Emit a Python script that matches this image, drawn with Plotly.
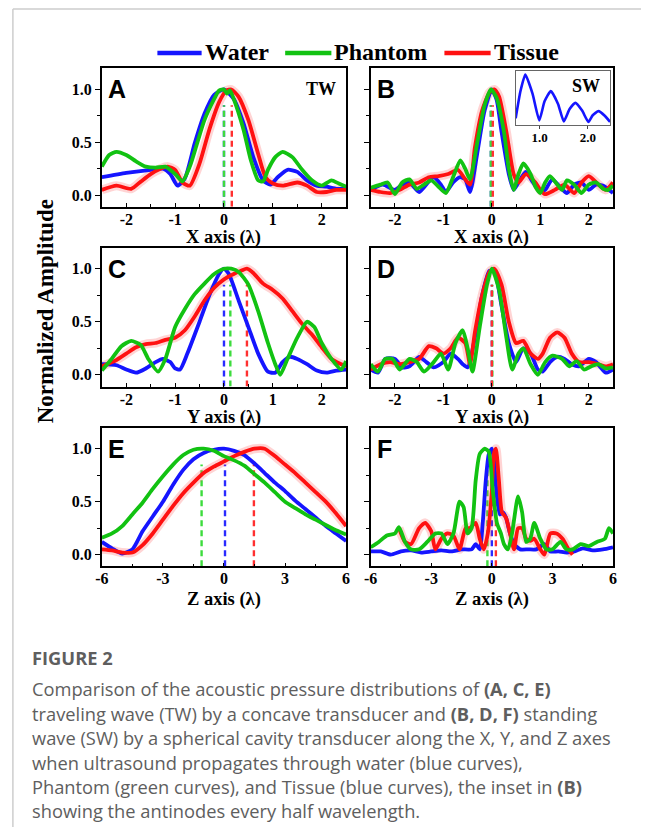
import plotly.graph_objects as go

W, H = 645, 827

# ---------------------------------------------------------
# Data, x in wavelengths, y normalized
# ---------------------------------------------------------
SERIES = ["Water", "Phantom", "Tissue"]

# Panel A: TW, X axis
a_water_x = [-2.5, -2.0, -1.5, -1.25, -1.1, -0.95, -0.8, -0.6, -0.4, -0.2, 0.0, 0.2, 0.4, 0.6, 0.8,
             0.95, 1.1, 1.3, 1.5, 1.7, 1.9, 2.1, 2.3, 2.5]
a_water_y = [0.17, 0.21, 0.24, 0.25, 0.2, 0.09, 0.16, 0.49, 0.77, 0.95, 1.0, 0.91, 0.68, 0.36, 0.14,
             0.1, 0.17, 0.24, 0.22, 0.14, 0.09, 0.08, 0.06, 0.06]
a_phantom_x = [-2.5, -2.35, -2.2, -2.0, -1.8, -1.6, -1.4, -1.2, -1.0, -0.85, -0.7, -0.55, -0.4, -0.2,
               -0.1, 0.0, 0.06, 0.12, 0.2, 0.4, 0.55, 0.7, 0.8, 0.9, 1.05, 1.2, 1.4, 1.6, 1.8, 2.0,
               2.2, 2.35, 2.5]
a_phantom_y = [0.27, 0.38, 0.41, 0.38, 0.32, 0.27, 0.26, 0.27, 0.2, 0.13, 0.27, 0.49, 0.71, 0.91,
               0.99, 1.0, 0.96, 0.99, 0.91, 0.62, 0.33, 0.14, 0.13, 0.24, 0.36, 0.41, 0.36, 0.24,
               0.14, 0.09, 0.14, 0.11, 0.08]
a_tissue_x = [-2.5, -2.2, -1.9, -1.7, -1.5, -1.3, -1.15, -1.0, -0.85, -0.7, -0.5, -0.3, -0.1, 0.05,
              0.15, 0.3, 0.5, 0.7, 0.85, 1.0, 1.2, 1.5, 1.7, 1.9, 2.1, 2.3, 2.5]
a_tissue_y = [0.05, 0.09, 0.06, 0.13, 0.2, 0.25, 0.27, 0.24, 0.12, 0.09, 0.3, 0.62, 0.88, 0.99,
              1.0, 0.93, 0.71, 0.39, 0.17, 0.11, 0.09, 0.12, 0.09, 0.03, 0.03, 0.05, 0.05]

# Panel B: SW, X axis
b_water_x = [-2.5, -2.25, -2.0, -1.85, -1.7, -1.5, -1.3, -1.2, -1.05, -0.95, -0.8, -0.65, -0.55,
             -0.45, -0.3, -0.15, 0.0, 0.1, 0.2, 0.35, 0.45, 0.55, 0.7, 0.85, 1.0, 1.1, 1.25, 1.4,
             1.55, 1.7, 1.85, 2.0, 2.15, 2.3, 2.5]
b_water_y = [0.05, 0.1, 0.05, 0.1, 0.12, 0.03, 0.13, 0.17, 0.1, 0.03, 0.12, 0.17, 0.15, 0.03, 0.4,
             0.8, 1.0, 0.9, 0.6, 0.2, 0.05, 0.12, 0.22, 0.12, 0.03, 0.05, 0.15, 0.08, 0.02, 0.1,
             0.12, 0.05, 0.1, 0.09, 0.02]
b_phantom_x = [-2.5, -2.3, -2.15, -2.0, -1.85, -1.7, -1.55, -1.4, -1.25, -1.1, -0.95, -0.8, -0.65,
               -0.55, -0.45, -0.3, -0.15, -0.02, 0.1, 0.25, 0.35, 0.45, 0.55, 0.65, 0.8, 0.9, 1.0,
               1.1, 1.2, 1.35, 1.45, 1.55, 1.7, 1.85, 2.0, 2.15, 2.3, 2.4, 2.5]
b_phantom_y = [0.07, 0.1, 0.12, 0.01, 0.12, 0.15, 0.06, 0.1, 0.14, 0.08, 0.02, 0.17, 0.33, 0.25,
               0.15, 0.5, 0.85, 1.0, 0.92, 0.6, 0.25, 0.05, 0.2, 0.3, 0.2, 0.08, 0.02, 0.12, 0.18,
               0.1, 0.05, 0.14, 0.1, 0.02, 0.1, 0.12, 0.06, 0.05, 0.09]
b_tissue_x = [-2.5, -2.3, -2.1, -1.9, -1.7, -1.5, -1.3, -1.1, -0.9, -0.7, -0.55, -0.45, -0.35, -0.2,
              -0.05, 0.05, 0.15, 0.3, 0.45, 0.55, 0.7, 0.9, 1.0, 1.1, 1.3, 1.5, 1.7, 1.85, 2.0,
              2.2, 2.35, 2.5]
b_tissue_y = [0.05, 0.03, 0.02, 0.05, 0.1, 0.12, 0.17, 0.18, 0.2, 0.24, 0.15, 0.1, 0.45, 0.8, 0.97,
              1.0, 0.93, 0.6, 0.2, 0.12, 0.2, 0.12, 0.05, 0.01, 0.05, 0.1, 0.02, 0.12, 0.18, 0.1,
              0.05, 0.12]

# Panel C: TW, Y axis
c_water_x = [-2.5, -2.2, -2.0, -1.8, -1.6, -1.4, -1.25, -1.1, -1.0, -0.9, -0.75, -0.5, -0.3, -0.1,
             0.0, 0.1, 0.3, 0.5, 0.7, 0.9, 1.05, 1.2, 1.35, 1.5, 1.7, 1.9, 2.1, 2.3, 2.5]
c_water_y = [0.1, 0.09, 0.05, 0.02, 0.06, 0.12, 0.15, 0.12, 0.06, 0.05, 0.2, 0.5, 0.75, 0.95, 1.0,
             0.95, 0.7, 0.45, 0.2, 0.03, 0.02, 0.12, 0.17, 0.15, 0.1, 0.04, 0.02, 0.04, 0.05]
c_phantom_x = [-2.5, -2.3, -2.1, -1.9, -1.7, -1.55, -1.35, -1.2, -1.0, -0.8, -0.6, -0.4, -0.2, 0.0,
               0.15, 0.3, 0.5, 0.7, 0.9, 1.05, 1.15, 1.3, 1.5, 1.7, 1.85, 2.0, 2.2, 2.4, 2.5]
c_phantom_y = [0.04, 0.15, 0.27, 0.32, 0.28, 0.15, 0.03, 0.15, 0.45, 0.62, 0.76, 0.86, 0.95, 1.0,
               1.0, 0.97, 0.85, 0.6, 0.3, 0.1, 0.0, 0.15, 0.35, 0.5, 0.45, 0.3, 0.15, 0.05, 0.13]
c_tissue_x = [-2.5, -2.2, -2.0, -1.8, -1.6, -1.4, -1.2, -1.0, -0.8, -0.6, -0.4, -0.2, 0.0, 0.2,
              0.35, 0.47, 0.6, 0.8, 1.0, 1.2, 1.4, 1.6, 1.8, 2.0, 2.2, 2.4, 2.5]
c_tissue_y = [0.08, 0.14, 0.2, 0.26, 0.29, 0.3, 0.33, 0.35, 0.42, 0.55, 0.7, 0.82, 0.9, 0.95, 0.98,
              1.0, 0.96, 0.86, 0.8, 0.72, 0.6, 0.48, 0.38, 0.26, 0.15, 0.1, 0.08]

# Panel D: SW, Y axis
d_water_x = [-2.5, -2.35, -2.2, -2.0, -1.85, -1.7, -1.5, -1.35, -1.2, -1.0, -0.85, -0.7, -0.6, -0.5,
             -0.35, -0.2, -0.05, 0.05, 0.2, 0.35, 0.5, 0.65, 0.8, 0.95, 1.05, 1.2, 1.35, 1.5, 1.65,
             1.8, 2.0, 2.15, 2.35, 2.5]
d_water_y = [0.05, 0.02, 0.15, 0.15, 0.07, 0.08, 0.17, 0.12, 0.07, 0.12, 0.2, 0.15, 0.1, 0.07, 0.35,
             0.75, 0.98, 0.98, 0.65, 0.3, 0.12, 0.25, 0.2, 0.05, 0.03, 0.12, 0.17, 0.15, 0.1, 0.08,
             0.15, 0.12, 0.02, 0.05]
d_phantom_x = [-2.5, -2.35, -2.2, -2.05, -1.9, -1.7, -1.55, -1.4, -1.2, -1.05, -0.9, -0.75, -0.6,
               -0.5, -0.4, -0.25, -0.1, 0.0, 0.15, 0.3, 0.42, 0.55, 0.65, 0.8, 0.95, 1.1, 1.25,
               1.45, 1.6, 1.75, 1.9, 2.05, 2.2, 2.35, 2.5]
d_phantom_y = [0.1, 0.03, 0.15, 0.15, 0.05, 0.15, 0.12, 0.03, 0.12, 0.2, 0.05, 0.3, 0.42, 0.25,
               0.03, 0.45, 0.85, 1.0, 0.8, 0.35, 0.05, 0.2, 0.25, 0.1, 0.0, 0.12, 0.18, 0.15, 0.08,
               0.13, 0.05, 0.08, 0.1, 0.06, 0.07]
d_tissue_x = [-2.5, -2.3, -2.1, -1.9, -1.7, -1.5, -1.3, -1.15, -1.0, -0.85, -0.7, -0.55, -0.45,
              -0.35, -0.2, -0.05, 0.05, 0.2, 0.35, 0.5, 0.65, 0.8, 0.95, 1.05, 1.2, 1.35, 1.5, 1.65,
              1.8, 2.0, 2.2, 2.35, 2.5]
d_tissue_y = [0.05, 0.1, 0.12, 0.1, 0.12, 0.15, 0.27, 0.25, 0.2, 0.25, 0.35, 0.3, 0.1, 0.4, 0.75,
              0.97, 1.0, 0.85, 0.5, 0.3, 0.32, 0.2, 0.15, 0.2, 0.35, 0.4, 0.35, 0.2, 0.12, 0.12,
              0.1, 0.08, 0.1]

# Panel E: TW, Z axis
e_x = [-6, -5.5, -5, -4.5, -4, -3.5, -3, -2.5, -2, -1.5, -1, -0.5, 0, 0.5, 1, 1.5, 2, 2.5, 3, 3.5,
       4, 4.5, 5, 5.5, 6]
e_water_y = [0.12, 0.06, 0.01, 0.05, 0.22, 0.36, 0.5, 0.66, 0.8, 0.9, 0.96, 0.99, 1.0, 0.98, 0.94,
             0.86, 0.77, 0.68, 0.6, 0.51, 0.43, 0.35, 0.27, 0.2, 0.13]
e_phantom_y = [0.16, 0.2, 0.27, 0.38, 0.49, 0.62, 0.74, 0.85, 0.94, 0.99, 1.0, 0.98, 0.93, 0.89,
               0.84, 0.76, 0.68, 0.59, 0.5, 0.44, 0.38, 0.33, 0.28, 0.23, 0.19]
e_tissue_y = [0.05, 0.04, 0.02, 0.02, 0.09, 0.2, 0.33, 0.46, 0.58, 0.68, 0.77, 0.83, 0.88, 0.93,
              0.97, 1.0, 1.0, 0.93, 0.85, 0.77, 0.68, 0.59, 0.5, 0.39, 0.27]

# Panel F: SW, Z axis
f_water_x = [-6, -5.5, -5, -4.5, -4, -3.5, -3, -2.5, -2, -1.5, -1.0, -0.8, -0.6, -0.45, -0.3, -0.15,
             0.0, 0.1, 0.25, 0.4, 0.55, 0.7, 0.9, 1.1, 1.4, 1.8, 2.2, 2.6, 2.9, 3.3, 3.7, 4.1, 4.5,
             5.0, 5.5, 6.0]
f_water_y = [0.03, 0.03, 0.0, 0.03, 0.04, 0.02, 0.03, 0.04, 0.03, 0.05, 0.05, 0.1, 0.05, 0.3, 0.7,
             0.95, 1.0, 0.9, 0.55, 0.38, 0.4, 0.35, 0.2, 0.1, 0.05, 0.05, 0.05, 0.1, 0.03, 0.03,
             0.02, 0.03, 0.06, 0.04, 0.05, 0.07]
f_phantom_x = [-6, -5.6, -5.2, -4.8, -4.6, -4.3, -4.0, -3.6, -3.2, -2.8, -2.5, -2.2, -1.9, -1.6,
               -1.4, -1.2, -1.0, -0.8, -0.6, -0.35, -0.15, 0.05, 0.25, 0.45, 0.6, 0.8, 1.0, 1.3,
               1.5, 1.7, 1.9, 2.1, 2.4, 2.7, 3.0, 3.4, 3.7, 4.0, 4.4, 4.8, 5.2, 5.6, 5.8, 6.0]
f_phantom_y = [0.07, 0.12, 0.18, 0.2, 0.26, 0.12, 0.05, 0.05, 0.12, 0.2, 0.2, 0.1, 0.2, 0.5, 0.45,
               0.2, 0.25, 0.7, 0.95, 1.0, 0.97, 0.6, 0.3, 0.2, 0.1, 0.05, 0.2, 0.55, 0.4, 0.12,
               0.15, 0.3, 0.15, 0.05, 0.05, 0.12, 0.05, 0.05, 0.1, 0.08, 0.12, 0.15, 0.25, 0.2]
f_tissue_x = [-4.6, -4.3, -4.0, -3.6, -3.3, -3.0, -2.8, -2.5, -2.2, -1.9, -1.6, -1.3, -1.1, -0.8,
              -0.6, -0.4, -0.2, 0.0, 0.1, 0.2, 0.35, 0.5, 0.7, 0.9, 1.1, 1.3, 1.5, 1.7, 1.9, 2.1,
              2.4, 2.6, 2.9, 3.2, 3.5, 3.8, 4.0]
f_tissue_y = [0.25, 0.12, 0.1, 0.25, 0.3, 0.22, 0.05, 0.15, 0.2, 0.18, 0.05, 0.25, 0.25, 0.3, 0.15,
              0.05, 0.2, 0.6, 0.95, 1.0, 0.7, 0.4, 0.35, 0.2, 0.05, 0.25, 0.25, 0.15, 0.13, 0.15,
              0.05, 0.0, 0.2, 0.2, 0.15, 0.05, 0.0]

# Inset (B): SW antinodes, water
inset_x = [0.5, 0.6, 0.7, 0.85, 0.99, 1.1, 1.23, 1.38, 1.5, 1.62, 1.74, 1.88, 2.01, 2.1, 2.22,
           2.35, 2.46]
inset_y = [0.07, 0.6, 0.92, 0.55, 0.03, 0.4, 0.6, 0.35, 0.01, 0.25, 0.37, 0.22, 0.0, 0.13, 0.21,
           0.12, 0.0]

# Peak positions (dashed markers): water, phantom, tissue
peaks_a = [0.0, 0.0, 0.16]
peaks_b = [-0.02, -0.02, 0.02]
peaks_c = [0.0, 0.13, 0.47]
peaks_d = [0.0, 0.01, 0.0]
peaks_e = [0.05, -1.1, 1.47]
peaks_f = [0.0, -0.22, 0.2]

SMALL_TICKS = [-2, -1, 0, 1, 2]
SMALL_TEXT = ["-2", "-1", "0", "1", "2"]
SMALL_MINOR = [-1.5, -0.5, 0.5, 1.5]
WIDE_TICKS = [-6, -3, 0, 3, 6]
WIDE_TEXT = ["-6", "-3", "0", "3", "6"]
WIDE_MINOR = [-4.5, -1.5, 1.5, 4.5]

# ---------------------------------------------------------
# Style
# ---------------------------------------------------------
COLORS = {"Water": "#1515ff", "Phantom": "#12c212", "Tissue": "#ff1111"}
DASH_COLORS = {"Water": "#2a2aff", "Phantom": "#3ddc3d", "Tissue": "#ff3030"}
BAND = "rgba(255,60,60,0.22)"
SERIF = "Liberation Serif"
SANS = "Liberation Sans"

COLS = [(96.5, 345.0), (370.0, 616.5)]
ROWS = [(68.3, 206.8), (247.5, 386.5), (427.5, 566.3)]
TITLE_OFFSET = [30.5, 30.5, 33.0]
Y_RANGE = [-0.11, 1.2]
DASH_TOP = 0.85


def fx(p):
    return p / W


def fy(p):
    return 1 - p / H


panels = [
    ("A", 0, 0, [-2.5, 2.5], "X axis (λ)", peaks_a,
     [(a_water_x, a_water_y), (a_phantom_x, a_phantom_y), (a_tissue_x, a_tissue_y)]),
    ("B", 1, 0, [-2.5, 2.5], "X axis (λ)", peaks_b,
     [(b_water_x, b_water_y), (b_phantom_x, b_phantom_y), (b_tissue_x, b_tissue_y)]),
    ("C", 0, 1, [-2.5, 2.5], "Y axis (λ)", peaks_c,
     [(c_water_x, c_water_y), (c_phantom_x, c_phantom_y), (c_tissue_x, c_tissue_y)]),
    ("D", 1, 1, [-2.5, 2.5], "Y axis (λ)", peaks_d,
     [(d_water_x, d_water_y), (d_phantom_x, d_phantom_y), (d_tissue_x, d_tissue_y)]),
    ("E", 0, 2, [-6, 6], "Z axis (λ)", peaks_e,
     [(e_x, e_water_y), (e_x, e_phantom_y), (e_x, e_tissue_y)]),
    ("F", 1, 2, [-6, 6], "Z axis (λ)", peaks_f,
     [(f_water_x, f_water_y), (f_phantom_x, f_phantom_y), (f_tissue_x, f_tissue_y)]),
]

fig = go.Figure()
layout_axes = {}
annotations = []
shapes = [
    # light frame of the figure card (top and left edges)
    dict(type="line", xref="paper", yref="paper", x0=fx(6), x1=1, y0=fy(9), y1=fy(9),
         line=dict(color="#cdcdcd", width=1.5)),
    dict(type="line", xref="paper", yref="paper", x0=fx(6), x1=fx(6), y0=fy(9), y1=0,
         line=dict(color="#cdcdcd", width=1.5)),
]

tick_font = dict(family=SERIF, size=16, color="black", weight="bold")

for i, (label, col, row, xr, xtitle, peaks, curves) in enumerate(panels, start=1):
    s = "" if i == 1 else str(i)
    xa, ya = "x" + s, "y" + s

    # dashed peak markers (behind the curves)
    for name, p in zip(SERIES, peaks):
        fig.add_trace(go.Scatter(
            x=[p, p], y=[Y_RANGE[0], DASH_TOP], mode="lines",
            line=dict(color=DASH_COLORS[name], width=2.4, dash="6px,4px"),
            xaxis=xa, yaxis=ya, showlegend=False, hoverinfo="skip",
        ))

    # shaded band around tissue curve
    tx, ty = curves[2]
    fig.add_trace(go.Scatter(
        x=tx, y=ty, mode="lines", line=dict(color=BAND, width=9, shape="spline", smoothing=0.6),
        xaxis=xa, yaxis=ya, showlegend=False, hoverinfo="skip",
    ))

    # curves: water, tissue, phantom drawing order
    for k in [0, 2, 1]:
        name = SERIES[k]
        cx, cy = curves[k]
        fig.add_trace(go.Scatter(
            x=cx, y=cy, mode="lines", name=name,
            line=dict(color=COLORS[name], width=3.8, shape="spline", smoothing=0.6),
            xaxis=xa, yaxis=ya, showlegend=False,
        ))

    x0, x1 = COLS[col]
    y0, y1 = ROWS[row]
    wide = xr[1] > 3
    layout_axes["xaxis" + s] = dict(
        domain=[fx(x0), fx(x1)], range=xr, anchor=ya,
        tickmode="array",
        tickvals=WIDE_TICKS if wide else SMALL_TICKS,
        ticktext=WIDE_TEXT if wide else SMALL_TEXT,
        ticks="inside", ticklen=4, tickwidth=1.3, tickcolor="black",
        ticklabelstandoff=-3,
        minor=dict(tickmode="array", tickvals=WIDE_MINOR if wide else SMALL_MINOR,
                   ticks="inside", ticklen=3, tickwidth=1.2, tickcolor="black"),
        showline=True, linecolor="black", linewidth=1.6, mirror=True,
        showgrid=False, zeroline=False, tickfont=tick_font, fixedrange=True,
    )
    layout_axes["yaxis" + s] = dict(
        domain=[fy(y1), fy(y0)], range=Y_RANGE, anchor=xa,
        tickmode="array", tickvals=[0, 0.5, 1.0], ticktext=["0.0", "0.5", "1.0"],
        showticklabels=(col == 0),
        ticks="outside", ticklen=5, tickwidth=1.3, tickcolor="black",
        minor=dict(tickmode="array", tickvals=[0.25, 0.75], ticks="outside",
                   ticklen=3, tickwidth=1.2, tickcolor="black"),
        showline=True, linecolor="black", linewidth=1.6, mirror=True,
        showgrid=False, zeroline=False, tickfont=tick_font, fixedrange=True,
    )

    # panel letter
    annotations.append(dict(
        text=label, x=fx(x0 + 4), y=fy(y0 + 21), xref="paper", yref="paper",
        xanchor="left", yanchor="middle", showarrow=False,
        font=dict(family=SANS, size=25, color="black", weight="bold"),
    ))
    # axis title
    annotations.append(dict(
        text=xtitle, x=fx((x0 + x1) / 2), y=fy(y1 + TITLE_OFFSET[row]), xref="paper",
        yref="paper", xanchor="center", yanchor="middle", showarrow=False,
        font=dict(family=SERIF, size=18.5, color="black", weight="bold"),
    ))

# inset in B
fig.add_trace(go.Scatter(
    x=inset_x, y=inset_y, mode="lines", line=dict(color=COLORS["Water"], width=2.6,
                                                    shape="spline", smoothing=0.5),
    xaxis="x7", yaxis="y7", showlegend=False,
))
layout_axes["xaxis7"] = dict(
    domain=[fx(517.5), fx(613.5)], range=[0.5, 2.46], anchor="y7",
    tickmode="array", tickvals=[1.0, 2.0], ticktext=["1.0", "2.0"],
    ticks="outside", ticklen=3, tickwidth=1, tickcolor="#444",
    ticklabelstandoff=-3,
    showline=True, linecolor="#666", linewidth=1.3, mirror=True,
    showgrid=False, zeroline=False, fixedrange=True,
    tickfont=dict(family=SERIF, size=13, color="black", weight="bold"),
)
layout_axes["yaxis7"] = dict(
    domain=[fy(125), fy(70.5)], range=[-0.06, 1.0], anchor="x7",
    showticklabels=False, ticks="",
    showline=True, linecolor="#666", linewidth=1.3, mirror=True,
    showgrid=False, zeroline=False, fixedrange=True,
)

annotations += [
    dict(text="TW", x=fx(337), y=fy(89), xref="paper", yref="paper", xanchor="right",
         yanchor="middle", showarrow=False,
         font=dict(family=SERIF, size=18, color="black", weight="bold")),
    dict(text="SW", x=fx(605), y=fy(86), xref="paper", yref="paper", xanchor="right",
         yanchor="middle", showarrow=False,
         font=dict(family=SERIF, size=18, color="black", weight="bold")),
    dict(text="Normalized Amplitude", x=fx(39), y=fy(311), xref="paper", yref="paper",
         textangle=-90, xanchor="center", yanchor="middle", showarrow=False,
         font=dict(family=SERIF, size=23, color="black", weight="bold")),
]

# legend drawn by hand: line sample + label
legend_items = [("Water", 153, 198), ("Phantom", 283, 330), ("Tissue", 445, 492)]
for name, lx0, lx1 in legend_items:
    shapes.append(dict(type="line", xref="paper", yref="paper", x0=fx(lx0), x1=fx(lx1),
                       y0=fy(53), y1=fy(53), line=dict(color=COLORS[name], width=4.5)))
    annotations.append(dict(
        text=name, x=fx(lx1 + 1), y=fy(52), xref="paper", yref="paper",
        xanchor="left", yanchor="middle", showarrow=False,
        font=dict(family=SERIF, size=24, color="black", weight="bold"),
    ))

# caption
caption = [
    ("<b>FIGURE 2</b>", 657),
    ("Comparison of the acoustic pressure distributions of <b>(A, C, E)</b>", 688),
    ("traveling wave (TW) by a concave transducer and <b>(B, D, F)</b> standing", 713),
    ("wave (SW) by a spherical cavity transducer along the X, Y, and Z axes", 737),
    ("when ultrasound propagates through water (blue curves),", 762),
    ("Phantom (green curves), and Tissue (blue curves), the inset in <b>(B)</b>", 786),
    ("showing the antinodes every half wavelength.", 810),
]
for text, ypos in caption:
    annotations.append(dict(
        text=text, x=fx(23), y=fy(ypos), xref="paper", yref="paper",
        xanchor="left", yanchor="middle", showarrow=False,
        font=dict(family="Open Sans", size=18.3, color="#5e5e5e"),
    ))

fig.update_layout(
    width=W, height=H, autosize=False,
    margin=dict(l=0, r=0, t=0, b=0),
    paper_bgcolor="white", plot_bgcolor="rgba(0,0,0,0)",
    showlegend=False,
    annotations=annotations,
    shapes=shapes,
    **layout_axes,
)

fig.write_html(
    "out.html",
    config={"displayModeBar": False},
    post_script="document.body.style.margin='0px';",
)
